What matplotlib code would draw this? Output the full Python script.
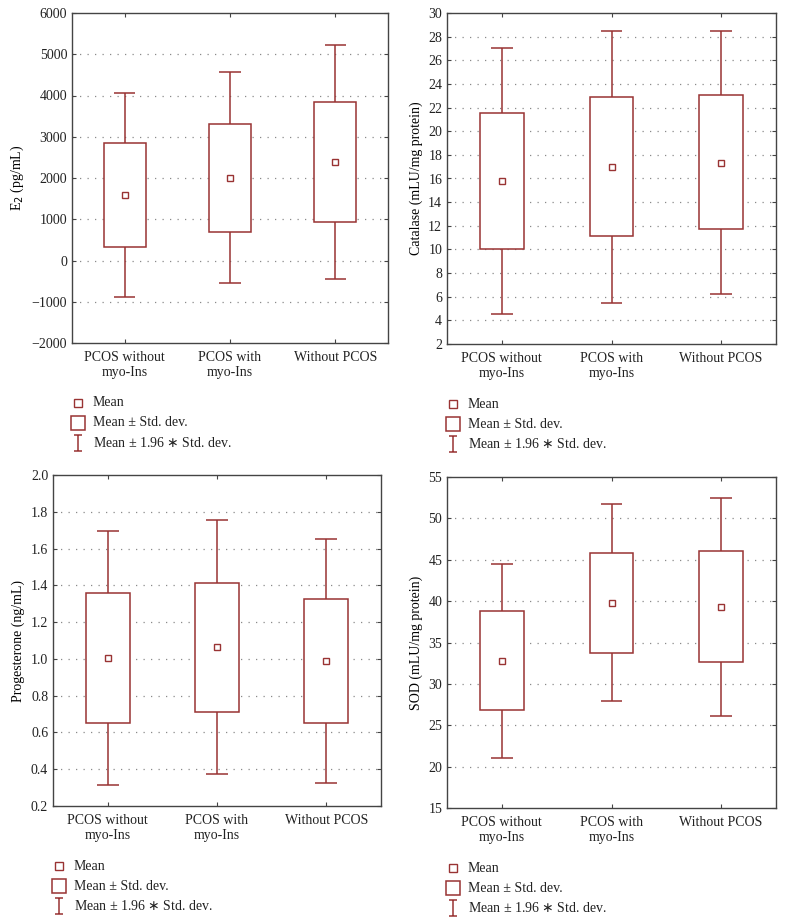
import matplotlib
matplotlib.use("Agg")
import matplotlib.pyplot as plt
from matplotlib.path import Path

plt.rcParams['font.family'] = ['Liberation Serif', 'DejaVu Serif']
plt.rcParams['font.size'] = 10

categories = ["PCOS without\nmyo-Ins", "PCOS with\nmyo-Ins", "Without PCOS"]

# E2 (pg/mL)
e2_mean = [1600, 2005, 2390]
e2_sd_lo = [335, 700, 945]
e2_sd_hi = [2860, 3310, 3835]
e2_ci_lo = [-875, -550, -445]
e2_ci_hi = [4070, 4570, 5230]

# Catalase
cat_mean = [15.75, 17.0, 17.35]
cat_sd_lo = [10.02, 11.12, 11.71]
cat_sd_hi = [21.5, 22.86, 23.03]
cat_ci_lo = [4.5, 5.5, 6.27]
cat_ci_hi = [27.0, 28.5, 28.5]

# Progesterone
pro_mean = [1.003, 1.063, 0.99]
pro_sd_lo = [0.651, 0.709, 0.650]
pro_sd_hi = [1.357, 1.415, 1.326]
pro_ci_lo = [0.312, 0.372, 0.327]
pro_ci_hi = [1.697, 1.755, 1.650]

# SOD
sod_mean = [32.76, 39.77, 39.29]
sod_sd_lo = [26.80, 33.77, 32.64]
sod_sd_hi = [38.77, 45.85, 46.0]
sod_ci_lo = [21.04, 27.89, 26.16]
sod_ci_hi = [44.5, 51.7, 52.42]

RED = '#993333'
GRID = '#8a8a8a'
W, H = 785, 924

fig = plt.figure(figsize=(W / 100, H / 100), dpi=100)

def rect(x0, y0, x1, y1):
    return [x0 / W, 1 - y1 / H, (x1 - x0) / W, (y1 - y0) / H]

whisker_marker = Path([(-0.5, 1), (0.5, 1), (0, 1), (0, -1), (-0.5, -1), (0.5, -1)],
                      [Path.MOVETO, Path.LINETO, Path.MOVETO, Path.LINETO, Path.MOVETO, Path.LINETO])

def panel(r, mean, sdlo, sdhi, cilo, cihi, ylim, yticks, ylabel, yfmt):
    ax = fig.add_axes(rect(*r))
    pos = [1, 2, 3]
    ax.set_xlim(0.5, 3.5)
    ax.set_ylim(*ylim)
    ax.set_yticks(yticks)
    ax.set_yticklabels([yfmt(v) for v in yticks])
    ax.set_xticks(pos)
    ax.set_xticklabels(categories, linespacing=1.15)
    for t in yticks[1:-1]:
        ax.axhline(t, color=GRID, lw=0.9, ls=(0, (1, 5)), zorder=0)
    ax.vlines(pos, cilo, cihi, color=RED, lw=1.1, zorder=1)
    ax.hlines(cilo, [p - 0.1 for p in pos], [p + 0.1 for p in pos], color=RED, lw=1.1, zorder=1)
    ax.hlines(cihi, [p - 0.1 for p in pos], [p + 0.1 for p in pos], color=RED, lw=1.1, zorder=1)
    heights = [h - l for h, l in zip(sdhi, sdlo)]
    ax.bar(pos, heights, bottom=sdlo, width=0.4, facecolor='white', edgecolor=RED, lw=1.1, zorder=2)
    ax.plot(pos, mean, ls='none', marker='s', ms=4.5, mfc='white', mec=RED, mew=1.0, zorder=3)
    ax.set_ylabel(ylabel, fontsize=10)
    for s in ax.spines.values():
        s.set_color('#444444')
        s.set_linewidth(1.0)
    ax.tick_params(direction='in', length=3, top=True, right=True, colors='#444444',
                   labelcolor='#222222', labelsize=10)
    ax.tick_params(axis='x', pad=6)
    # legend
    tr = ax.transAxes
    h_px = (r[3] - r[1])
    w_px = (r[2] - r[0])
    rows = [("Mean", dict(marker='s', ms=6, mfc='white', mec=RED, mew=1.0)),
            ("Mean ± Std. dev.", dict(marker='s', ms=10, mfc='white', mec=RED, mew=1.1)),
            ("Mean ± 1.96 $\\ast$ Std. dev.", dict(marker=whisker_marker, ms=11, mec=RED, mew=1.1))]
    for i, (lab, kw) in enumerate(rows):
        yy = -(60 + 20 * i) / h_px
        xm = 6 / w_px
        ax.plot([xm], [yy], transform=tr, clip_on=False, ls='none', **kw)
        ax.text(xm + 15 / w_px, yy, lab, transform=tr, va='center', ha='left', fontsize=10,
                color='#222222')
    return ax

panel((72, 13, 388, 343), e2_mean, e2_sd_lo, e2_sd_hi, e2_ci_lo, e2_ci_hi,
      (-2000, 6000), list(range(-2000, 6001, 1000)), "E$_2$ (pg/mL)", lambda v: f"{v:d}".replace('-', '\u2212'))
panel((447, 13, 776, 344), cat_mean, cat_sd_lo, cat_sd_hi, cat_ci_lo, cat_ci_hi,
      (2, 30), list(range(2, 31, 2)), "Catalase (mLU/mg protein)", lambda v: f"{v:d}")
panel((53, 475, 381, 806), pro_mean, pro_sd_lo, pro_sd_hi, pro_ci_lo, pro_ci_hi,
      (0.2, 2.0), [0.2, 0.4, 0.6, 0.8, 1.0, 1.2, 1.4, 1.6, 1.8, 2.0], "Progesterone (ng/mL)", lambda v: f"{v:.1f}")
panel((447, 477, 776, 808), sod_mean, sod_sd_lo, sod_sd_hi, sod_ci_lo, sod_ci_hi,
      (15, 55), list(range(15, 56, 5)), "SOD (mLU/mg protein)", lambda v: f"{v:d}")

fig.savefig("out.png", dpi=100, facecolor='white')
